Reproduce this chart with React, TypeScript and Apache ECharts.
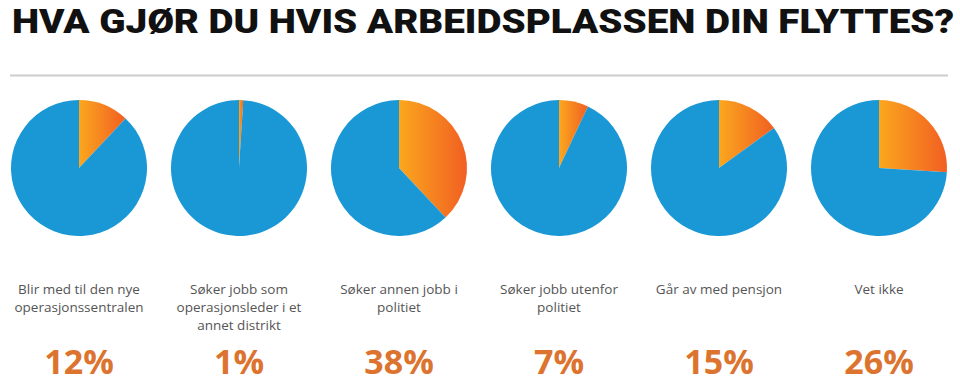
import React, { useEffect, useRef } from "react";
import * as echarts from "echarts";

const titleText = "HVA GJØR DU HVIS ARBEIDSPLASSEN DIN FLYTTES?";
const categories = [
  "Blir med til den nye\noperasjonssentralen",
  "Søker jobb som\noperasjonsleder i et\nannet distrikt",
  "Søker annen jobb i\npolitiet",
  "Søker jobb utenfor\npolitiet",
  "Går av med pensjon",
  "Vet ikke",
];
const shares = [12, 1, 38, 7, 15, 26];
const percentLabels = ["12%", "1%", "38%", "7%", "15%", "26%"];

const BLUE = "#1a98d5";
const PCT_COLOR = "#dc742f";

export default function App() {
  const ref = useRef<HTMLDivElement>(null);
  useEffect(() => {
    document.body.style.margin = "0";
    if (!ref.current) return;
    const chart = echarts.init(ref.current, null, { renderer: "svg" });
    const colW = 160;
    const firstX = 79;
    const cy = 168;
    const orange = new echarts.graphic.LinearGradient(0, 0, 1, 0, [
      { offset: 0, color: "#fba71e" },
      { offset: 1, color: "#f15f22" },
    ]);
    const series = shares.map((p, i) => ({
      type: "pie",
      center: [firstX + colW * i, cy],
      radius: [0, 68],
      startAngle: 90,
      clockwise: true,
      silent: true,
      label: { show: false },
      labelLine: { show: false },
      itemStyle: { borderWidth: 0 },
      data: [
        { value: p, name: "andel", itemStyle: { color: orange } },
        { value: 100 - p, name: "resten", itemStyle: { color: BLUE } },
      ],
    }));
    const graphics: any[] = [
      {
        type: "text",
        x: 12,
        y: 22,
        scaleX: 1.17,
        style: {
          text: titleText,
          fontFamily: "Roboto",
          fontWeight: 900,
          fontSize: 33,
          fill: "#111",
          textVerticalAlign: "middle",
        },
      },
      {
        type: "line",
        shape: { x1: 10, y1: 75.5, x2: 948, y2: 75.5 },
        style: { stroke: "#cccccc", lineWidth: 2 },
      },
    ];
    categories.forEach((c, i) => {
      graphics.push({
        type: "text",
        x: firstX + colW * i,
        y: 280,
        style: {
          text: c,
          fontFamily: "Open Sans",
          fontSize: 13.5,
          lineHeight: 18,
          fill: "#555",
          textAlign: "center",
          textVerticalAlign: "top",
        },
      });
      graphics.push({
        type: "text",
        x: firstX + colW * i,
        y: 361,
        style: {
          text: percentLabels[i],
          fontFamily: "Open Sans",
          fontWeight: "bold",
          fontSize: 34,
          fill: PCT_COLOR,
          textAlign: "center",
          textVerticalAlign: "middle",
        },
      });
    });
    chart.setOption({
      animation: false,
      backgroundColor: "#ffffff",
      series,
      graphic: graphics,
    } as any);
    return () => chart.dispose();
  }, []);
  return <div ref={ref} style={{ width: 960, height: 390 }} />;
}
